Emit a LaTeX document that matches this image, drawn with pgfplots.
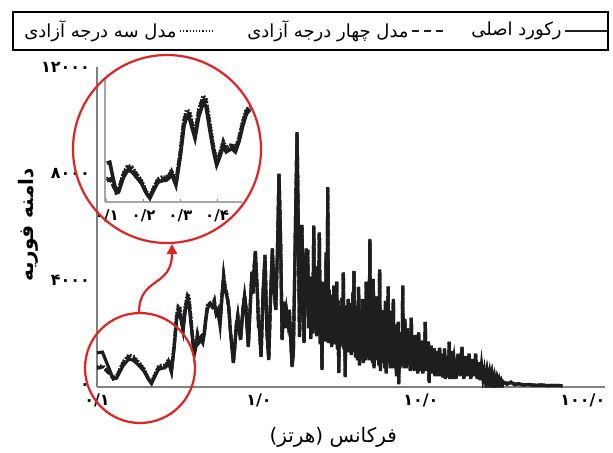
\documentclass[border=0pt]{standalone}
\usepackage{fontspec}
\usepackage{pgfplots}
\usepackage{pgfplotstable}
\pgfplotsset{compat=1.18}
\usetikzlibrary{arrows.meta}
\TeXXeTstate=1
\newfontfamily\fa[Script=Arabic]{DejaVu Sans}
\definecolor{axgray}{RGB}{128,128,128}
\definecolor{ink}{RGB}{30,30,30}
\definecolor{ringred}{RGB}{225,35,35}

% Fourier amplitude, 0.1-0.49 Hz: record and the two models
\pgfplotstableread{
f     rec   m4    m3
0.100 1280  700   760
0.108 1310  750   800
0.115 900   600   640
0.126 300   320   350
0.132 330   380   410
0.145 800   900   950
0.157 1050  1150  1200
0.168 1000  1100  1150
0.182 800   880   920
0.195 600   650   690
0.207 300   320   350
0.217 130   150   180
0.228 400   450   490
0.239 650   720   760
0.250 700   780   820
0.262 720   780   820
0.270 800   850   900
0.276 950   1000  1050
0.282 750   800   840
0.288 560   600   640
0.300 1500  1600  1650
0.310 2500  2650  2700
0.317 2800  2950  3030
0.325 2750  2900  2980
0.333 2400  2500  2560
0.340 2100  2200  2260
0.350 2800  2950  3020
0.362 3250  3420  3500
0.370 3150  3300  3380
0.380 2400  2550  2620
0.390 1700  1800  1860
0.399 1220  1300  1350
0.408 1500  1580  1630
0.417 1850  1950  2000
0.425 1650  1730  1780
0.432 1700  1780  1830
0.440 1760  1850  1900
0.450 1650  1730  1780
0.460 2000  2080  2130
0.470 2500  2600  2650
0.480 2900  3000  3050
0.490 3050  3100  3130
}\lowband

% Fourier amplitude, 0.49-75 Hz (the two models coincide here)
\pgfplotstableread{
f     rec   mod
0.490 3050  3100
0.500 3100  3150
0.515 3000  3050
0.530 3150  3250
0.545 2700  2750
0.560 2800  2900
0.575 2300  2350
0.590 3300  3400
0.605 4090  4200
0.620 3600  3700
0.635 3375  3450
0.650 3000  3050
0.665 2140  2200
0.680 1500  1550
0.695 900   950
0.710 1500  1550
0.725 2300  2350
0.740 2625  2700
0.755 2200  2250
0.770 1760  1800
0.785 2400  2450
0.800 3000  3050
0.815 3375  3450
0.830 3000  3050
0.845 2200  2250
0.860 1500  1550
0.875 2500  2550
0.890 3400  3450
0.905 4275  4350
0.920 3500  3550
0.935 4500  4550
0.950 5025  5100
0.965 4200  4250
0.980 3375  3400
0.995 2200  2250
1.00  2500  2500
1.03  1125  1150
1.06  3500  3550
1.09  4875  4950
1.12  2000  2050
1.15  1010  1050
1.18  3400  3450
1.21  5140  5200
1.24  3600  3650
1.27  2890  2900
1.30  5000  5050
1.33  7950  8000
1.36  5500  5550
1.39  1760  1800
1.42  3150  3200
1.45  2200  2250
1.48  2800  2850
1.51  2400  2450
1.54  2890  2900
1.57  1800  1850
1.60  750   800
1.63  1200  1250
1.66  4000  4050
1.69  7000  7050
1.72  9560  9500
1.75  6000  6050
1.78  1875  1900
1.81  3500  3550
1.84  6075  6100
1.87  4000  4050
1.90  1650  1700
1.93  3500  3550
1.96  5140  5200
1.99  4125  4150
2.00  5140  5150
2.03  2200  2250
2.06  4125  4150
2.09  1800  1850
2.12  4000  4050
2.15  2000  2050
2.18  6000  6050
2.21  2300  2350
2.24  3900  3950
2.27  1900  1950
2.30  4500  4550
2.33  2100  2150
2.36  5775  5800
2.39  1600  1650
2.42  3500  3550
2.45  640   700
2.48  3900  3950
2.51  1900  1950
2.54  3000  3050
2.57  1700  1750
2.60  5000  5050
2.63  2200  2250
2.66  7500  7450
2.69  1650  1700
2.72  3600  3650
2.75  1800  1850
2.78  3000  3050
2.81  1500  1550
2.84  3400  3450
2.87  1700  1750
2.90  3750  3800
2.93  1600  1650
2.96  3000  3050
2.99  1800  1850
3.02  3900  3950
3.05  1400  1450
3.08  3200  3250
3.11  525   550
3.14  2800  2850
3.17  1500  1550
3.20  3000  3050
3.23  1600  1650
3.26  3300  3350
3.29  1700  1750
3.32  4275  4300
3.35  1400  1450
3.38  3000  3050
3.41  375   400
3.44  2600  2650
3.47  1300  1350
3.50  3000  3050
3.53  1500  1550
3.56  3260  3300
3.59  1400  1450
3.62  2800  2850
3.65  1300  1350
3.68  3100  3150
3.71  1200  1250
3.74  2600  2650
3.77  1400  1450
3.80  3500  3550
3.83  1500  1550
3.86  4300  4350
3.89  1300  1350
3.92  3000  3050
3.95  1100  1150
3.98  2600  2650
4.00  2600  2650
4.06  1000  1050
4.12  3700  3750
4.18  800   850
4.24  2600  2650
4.30  1100  1150
4.36  3260  3300
4.42  900   950
4.48  2700  2750
4.54  1000  1050
4.60  3940  3950
4.66  1200  1250
4.72  2800  2850
4.78  1000  1050
4.84  5550  5500
4.90  1000  1050
4.96  2900  2950
5.02  900   950
5.08  4000  4050
5.14  700   750
5.20  2600  2650
5.26  1000  1050
5.32  3375  3400
5.38  1100  1150
5.44  2700  2750
5.50  800   850
5.56  4390  4400
5.62  600   650
5.68  2500  2550
5.74  900   950
5.80  2890  2900
5.86  1000  1050
5.92  2400  2450
5.98  700   750
6.04  3200  3250
6.10  500   550
6.16  2300  2350
6.22  900   950
6.28  3750  3800
6.34  900   950
6.40  2400  2450
6.46  700   750
6.52  2800  2850
6.58  800   850
6.64  2200  2250
6.70  700   750
6.76  3260  3300
6.82  1000  1050
6.88  2300  2350
6.94  800   850
7.00  2250  2300
7.06  400   450
7.12  2000  2050
7.18  800   850
7.24  2400  2450
7.30  100   150
7.36  1900  1950
7.42  700   750
7.48  2000  2050
7.54  800   850
7.60  1900  1950
7.66  900   950
7.72  3790  3800
7.78  900   950
7.84  2000  2050
7.90  700   750
7.96  2500  2550
8.00  1700  1750
8.12  700   750
8.24  2140  2200
8.36  800   850
8.48  1600  1650
8.60  600   650
8.72  2590  2600
8.84  700   750
8.96  1600  1650
9.08  600   650
9.20  1900  1950
9.32  700   750
9.44  1500  1550
9.56  500   550
9.68  2025  2050
9.80  600   650
9.92  1500  1550
10.04 700   750
10.16 1700  1750
10.28 500   550
10.40 1400  1450
10.52 600   650
10.64 2440  2450
10.76 700   750
10.88 1400  1450
11.00 600   650
11.12 1690  1700
11.24 150   200
11.36 1300  1350
11.48 500   550
11.60 1500  1550
11.72 600   650
11.84 1200  1250
11.96 500   550
12.08 1400  1450
12.20 400   450
12.32 1200  1250
12.44 500   550
12.56 1300  1350
12.68 400   450
12.80 1100  1150
12.92 500   550
13.04 1460  1500
13.16 400   450
13.28 1100  1150
13.40 450   500
13.52 1200  1250
13.64 350   400
13.76 1000  1050
13.88 400   450
14.00 1400  1450
14.12 300   350
14.24 1000  1050
14.36 400   450
14.48 1100  1150
14.60 350   400
14.72 1000  1050
14.84 400   450
14.96 1690  1700
15.08 300   350
15.20 1000  1050
15.32 350   400
15.44 1300  1350
15.56 300   350
15.68 900   950
15.80 300   350
15.92 1000  1050
16.00 1100  1100
16.48 300   350
16.96 1200  1250
17.44 400   450
17.92 1460  1500
18.40 300   350
18.88 1100  1150
19.36 400   450
19.84 1200  1250
20.32 300   350
20.80 1000  1050
21.28 400   450
21.76 1200  1250
22.24 300   350
22.72 900   950
23.20 250   300
23.68 825   850
24.16 300   350
24.64 640   680
25.12 200   250
25.60 550   600
26.08 200   250
26.56 500   550
27.04 150   200
27.52 450   500
28.00 150   200
28.48 400   450
28.96 120   150
29.44 300   350
29.92 120   150
30.40 260   300
30.88 100   130
31.36 220   250
31.84 100   130
32    200   220
34    100   120
36    170   190
38    80    100
40    120   130
43    70    80
46    90    100
50    60    70
55    70    80
60    50    60
66    55    60
75    50    50
}\highband

\begin{document}
\begin{tikzpicture}
\path[use as bounding box] (0,0) rectangle (306.5pt,226pt);

% legend frame and entries (read right to left)
\draw[black, line width=0.7pt] (6.5pt,201pt) rectangle (304pt,220pt);
\begin{scope}[every node/.style={anchor=east, inner sep=0pt, font=\fa\fontsize{9}{11}\selectfont}]
  \draw[ink, line width=1.2pt] (282.5pt,210.5pt) -- (303.5pt,210.5pt);
  \node at (281pt,210.5pt) {\beginR رکورد اصلی\endR};
  \draw[ink, line width=1pt, dash pattern=on 3.5pt off 2.5pt] (206pt,210.5pt) -- (222.5pt,210.5pt);
  \node at (204.5pt,210.5pt) {\beginR مدل چهار درجه آزادی\endR};
  \draw[ink, line width=0.8pt, dash pattern=on 0.6pt off 1pt] (90pt,210.5pt) -- (107pt,210.5pt);
  \node at (88.5pt,210.5pt) {\beginR مدل سه درجه آزادی\endR};
\end{scope}

% main spectrum, logarithmic frequency axis
\begin{axis}[
  at={(48.5pt,32.5pt)}, anchor=south west,
  width=254pt, height=160pt, scale only axis,
  xmode=log, xmin=0.1, xmax=137,
  ymin=0, ymax=12000,
  axis x line*=bottom, axis y line*=left,
  axis line style={axgray, line width=0.8pt},
  xtick={0.1,1,10,100},
  xticklabels={۰/۱,۱/۰,۱۰/۰,۱۰۰/۰},
  ytick={0,4000,8000,12000},
  yticklabels={۰,۴۰۰۰,۸۰۰۰,۱۲۰۰۰},
  minor xtick={},
  major tick length=0pt, minor tick length=0pt,
  scaled y ticks=false,
  ticklabel style={font=\fa\bfseries\fontsize{8}{9}\selectfont, text=black},
  xlabel={\beginR فرکانس (هرتز)\endR},
  ylabel={\bfseries\beginR دامنه فوریه\endR},
  label style={font=\fa\fontsize{10}{12}\selectfont},
  xlabel style={at={(axis description cs:0.465,-0.156)}, anchor=center},
  ylabel style={at={(axis description cs:-0.136,0.506)}, anchor=center},
]
  \addplot[ink, line width=1.6pt, dash pattern=on 0.8pt off 0.8pt] table[x=f,y=m3]{\lowband};
  \addplot[ink, line width=1.6pt, dash pattern=on 3pt off 1.5pt] table[x=f,y=m4]{\lowband};
  \addplot[ink, line width=1.6pt] table[x=f,y=rec]{\lowband};
  \addplot[ink, line width=1.6pt, dash pattern=on 0.8pt off 0.8pt] table[x=f,y=mod]{\highband};
  \addplot[ink, line width=1.6pt, dash pattern=on 3pt off 1.5pt] table[x=f,y=mod]{\highband};
  \addplot[ink, line width=1.6pt] table[x=f,y=rec]{\highband};
\end{axis}

% magnified view of the 0.1-0.5 Hz band
\begin{axis}[
  at={(52.5pt,125pt)}, anchor=south west,
  width=68.5pt, height=62pt, scale only axis,
  xmin=0.095, xmax=0.468, ymin=0, ymax=4080,
  axis x line*=bottom, axis y line*=left,
  axis line style={axgray!70, line width=0.7pt},
  ytick=\empty,
  xtick={0.1,0.2,0.3,0.4},
  xticklabels={۰/۱,۰/۲,۰/۳,۰/۴},
  major tick length=1.5pt,
  tick style={axgray, line width=0.5pt},
  xticklabel style={font=\fa\bfseries\fontsize{7.5}{8}\selectfont, text=black},
  clip=false,
]
  \addplot[ink, line width=1.8pt, dash pattern=on 0.8pt off 0.8pt] table[x=f,y=m3]{\lowband};
  \addplot[ink, line width=1.8pt, dash pattern=on 3pt off 1.5pt] table[x=f,y=m4]{\lowband};
  \addplot[ink, line width=1.8pt] table[x=f,y=rec]{\lowband};
\end{axis}

% highlight rings and pointer
\draw[ringred, line width=1.1pt] (83.5pt,151.5pt) circle[radius=47pt];
\draw[ringred, line width=1.1pt] (70pt,42pt) circle[radius=27.5pt];
\draw[ringred, line width=1.1pt, -{Triangle[length=5pt,width=5pt]}]
  (69.5pt,69.5pt) .. controls (69.5pt,88pt) and (86pt,82pt) .. (86pt,104pt);
\end{tikzpicture}
\end{document}
